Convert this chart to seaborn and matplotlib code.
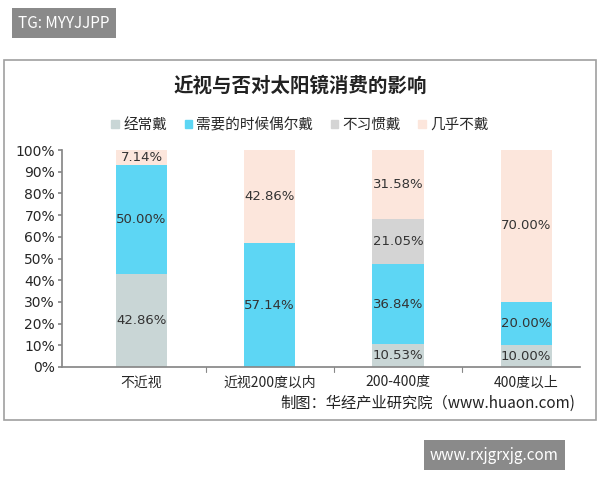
import matplotlib
matplotlib.use("Agg")
import matplotlib.pyplot as plt
import seaborn as sns
import numpy as np
import pandas as pd
from matplotlib.patches import Rectangle

categories = ["不近视", "近视200度以内", "200-400度", "400度以上"]
series = ["经常戴", "需要的时候偶尔戴", "不习惯戴", "几乎不戴"]
often = [42.86, 0, 10.53, 10.00]
sometimes = [50.00, 57.14, 36.84, 20.00]
unused = [0, 0, 21.05, 0]
rarely = [7.14, 42.86, 31.58, 70.00]
colors = ["#c9d6d6", "#5dd6f4", "#d4d4d4", "#fce6dc"]

sns.set_theme(style="white")
plt.rcParams['font.family'] = ['Noto Sans CJK SC', 'DejaVu Sans']

fig = plt.figure(figsize=(6, 4.8), dpi=100)
fig.patch.set_facecolor("white")
fig.add_artist(Rectangle((4/600, 1-420/480), 592/600, 360/480, transform=fig.transFigure,
                         fill=False, edgecolor="#a0a0a0", lw=1.2))
ax = fig.add_axes([62/600, 113/480, 518/600, 217/480])

vals = [often, sometimes, unused, rarely]
cum = np.cumsum(np.array(vals), axis=0)
for i in range(3, -1, -1):
    df = pd.DataFrame({"cat": categories, "v": cum[i]})
    sns.barplot(data=df, x="cat", y="v", color=colors[i], width=0.4, ax=ax,
                saturation=1, linewidth=0, legend=False)
for j in range(4):
    base = 0
    for i in range(4):
        v = vals[i][j]
        if v > 0:
            ax.text(j, base + v / 2, f"{v:.2f}%", ha="center", va="center",
                    fontsize=9.5, color="#333333", family="DejaVu Sans")
        base += v
ax.set_ylim(0, 100)
ax.set_xlim(-0.62, 3.42)
ax.set_yticks(range(0, 101, 10))
ax.set_yticklabels([f"{t}%" for t in range(0, 101, 10)], fontsize=10, family="DejaVu Sans")
ax.tick_params(axis="x", labelsize=10, length=0, pad=6)
ax.set_xlabel("")
ax.set_ylabel("")
for s in ["top", "right"]:
    ax.spines[s].set_visible(False)
ax.spines["left"].set_color("#888888")
ax.spines["bottom"].set_color("#888888")
ax.tick_params(axis="y", left=True, length=3, color="#888888", pad=2)
ax.set_xticks([0, 1, 2, 3])
ax.set_xticklabels(categories)
for x in [0.5, 1.5, 2.5]:
    ax.plot([x, x], [0, -2.5], color="#888888", lw=0.8, clip_on=False)

handles = [Rectangle((0, 0), 1, 1, color=c) for c in colors]
fig.legend(handles, series, loc="center", bbox_to_anchor=(0.5, 1-125/480), ncol=4,
           frameon=False, fontsize=10.5, handlelength=0.5, handleheight=0.5,
           handletextpad=0.3, columnspacing=1.2)
fig.text(0.5, 1-86/480, "近视与否对太阳镜消费的影响", ha="center", va="center",
         fontsize=14, fontweight="bold", color="#222222")
fig.text(575/600, 1-403/480, "制图：华经产业研究院（www.huaon.com)", ha="right", va="center",
         fontsize=11, color="#222222")
fig.text(18/600, 1-23/480, "TG: MYYJJPP", ha="left", va="center", fontsize=11, color="white",
         bbox=dict(boxstyle="square,pad=0.4", fc="#8a8a8a", ec="none"))
fig.text(430/600, 1-455/480, "www.rxjgrxjg.com", ha="left", va="center", fontsize=11, color="white",
         bbox=dict(boxstyle="square,pad=0.4", fc="#8a8a8a", ec="none"))
fig.savefig("out.png", dpi=100)
